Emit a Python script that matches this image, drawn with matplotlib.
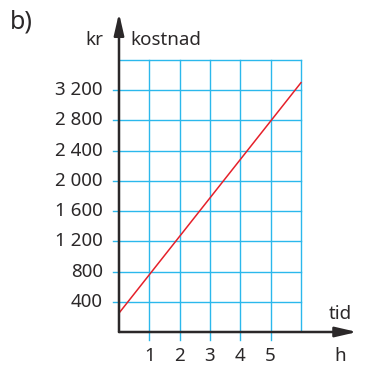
import matplotlib.pyplot as plt

# cost line (hours -> kr)
hours = [0, 6]
cost = [250, 3300]

x_ticks = [1, 2, 3, 4, 5]
y_ticks = [400, 800, 1200, 1600, 2000, 2400, 2800, 3200]
y_labels = ['400', '800', '1 200', '1 600', '2 000', '2 400', '2 800', '3 200']

grid_color = '#2bb8ec'
ink = '#2b2829'
fs = 13.5

plt.rcParams['font.family'] = ['Noto Sans', 'DejaVu Sans']

fig = plt.figure(figsize=(3.66, 3.65), dpi=100)
ax = fig.add_axes([119 / 366, 33 / 365, 239 / 366, 320 / 365])
ax.set_xlim(0, 239 / 30.33)
ax.set_ylim(0, 320 / 272 * 3600)
ax.axis('off')

# grid
for x in x_ticks:
    ax.plot([x, x], [-105, 3600], color=grid_color, lw=1, clip_on=False, zorder=1)
ax.plot([6, 6], [0, 3600], color=grid_color, lw=1, zorder=1)
for y in y_ticks:
    ax.plot([-0.2, 6], [y, y], color=grid_color, lw=1, clip_on=False, zorder=1)
ax.plot([0, 6], [3600, 3600], color=grid_color, lw=1, zorder=1)

# data
ax.plot(hours, cost, color='#e5202a', lw=1.1, zorder=3)

# axes with arrows
arrow = dict(arrowstyle='-|>,head_length=1.3,head_width=0.3', color=ink, lw=1.8,
             shrinkA=0, shrinkB=0)
ax.annotate('', xy=(7.85, 0), xytext=(0, 0), arrowprops=arrow,
            annotation_clip=False, zorder=4)
ax.annotate('', xy=(0, 4220), xytext=(0, 0), arrowprops=arrow,
            annotation_clip=False, zorder=4)

# tick labels
for x in x_ticks:
    ax.text(x, -320, str(x), ha='center', va='center', fontsize=fs, color=ink, clip_on=False)
for y, lab in zip(y_ticks, y_labels):
    ax.text(-0.53, y, lab, ha='right', va='center', fontsize=fs, color=ink, clip_on=False)

# axis titles
ax.text(7.3, -320, 'h', ha='center', va='center', fontsize=fs, color=ink, clip_on=False)
ax.text(7.3, 240, 'tid', ha='center', va='center', fontsize=fs, color=ink, clip_on=False)
ax.text(-0.53, 3870, 'kr', ha='right', va='center', fontsize=fs, color=ink, clip_on=False)
ax.text(0.38, 3870, 'kostnad', ha='left', va='center', fontsize=fs, color=ink, clip_on=False)
fig.text(10 / 366, 1 - 22 / 365, 'b)', ha='left', va='center', fontsize=18, color=ink)

fig.savefig('out.png', dpi=100)
